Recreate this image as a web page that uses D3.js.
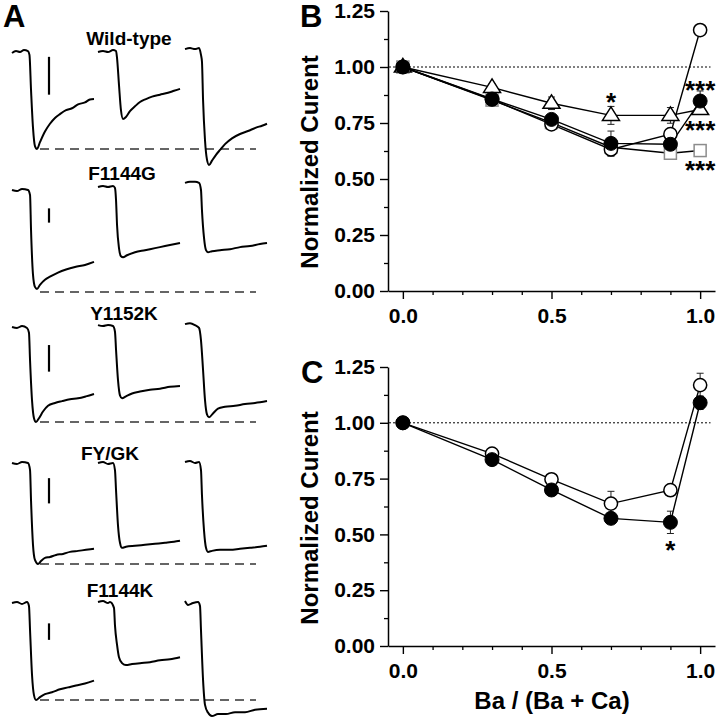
<!DOCTYPE html>
<html><head><meta charset="utf-8">
<script src="https://cdn.jsdelivr.net/npm/d3@7"></script>
<style>
html,body{margin:0;padding:0;background:#fff;}
svg{display:block;font-family:"Liberation Sans",Arial,Helvetica,sans-serif;font-weight:bold;}
</style>
</head><body>
<svg id="chart" width="718" height="720"></svg>
<script>
// ================= DATA =================
// Panel A: current traces, [time (ms, 0-100 window), current normalized to peak of first trace (0 = baseline, -1 = dashed line)]
const mutants = ["Wild-type", "F1144G", "Y1152K", "FY/GK", "F1144K"];

const wtTraces = [
  [[0,-0.01],[4.9,0.01],[9.8,0],[14.6,0.02],[19.5,0.01],[21.3,-0.03],[23.2,-0.39],[25.6,-0.78],[28,-0.97],[30.5,-1.0],[34.1,-0.93],[40.2,-0.82],[46.3,-0.74],[52.4,-0.68],[58.5,-0.64],[65.9,-0.6],[73.2,-0.58],[80.5,-0.54],[89,-0.52],[95,-0.49],[100,-0.485]],
  [[0,0],[6.1,0.01],[12.2,0],[18.3,0.02],[22,0.01],[23.2,-0.06],[25.6,-0.34],[28,-0.6],[30.5,-0.69],[34.1,-0.67],[39,-0.61],[45.1,-0.56],[51.2,-0.515],[58.5,-0.485],[65.9,-0.46],[75.6,-0.44],[85.4,-0.42],[92.7,-0.4],[100,-0.38]],
  [[0,0.03],[6.1,0.04],[12.2,0.03],[17.1,0.04],[19.5,-0.03],[20.7,-0.1],[22,-0.49],[24.4,-0.91],[26.8,-1.11],[29.3,-1.165],[32.9,-1.12],[37.8,-1.06],[42.7,-1.01],[48.8,-0.95],[57.3,-0.89],[67.1,-0.845],[76.8,-0.815],[86.6,-0.78],[93.9,-0.76],[100,-0.74]]
];
const f1144gTraces = [
  [[0,0],[6.1,-0.01],[12.2,0.01],[19.5,0],[22,-0.05],[23.2,-0.39],[25.6,-0.83],[28,-0.95],[30.5,-0.97],[34.1,-0.93],[40.2,-0.88],[46.3,-0.85],[56.1,-0.81],[65.9,-0.78],[76.8,-0.755],[89,-0.735],[100,-0.705]],
  [[0,0.03],[6.1,0.04],[12.2,0.03],[18.3,0.04],[20.7,0.02],[22,-0.1],[23.2,-0.34],[25.6,-0.57],[28,-0.65],[30.5,-0.66],[35.4,-0.64],[45.1,-0.61],[57.3,-0.59],[69.5,-0.57],[81.7,-0.55],[93.9,-0.53],[100,-0.52]],
  [[0,0.07],[6.1,0.08],[12.2,0.08],[17.1,0.07],[19.5,0],[20.7,-0.2],[23.2,-0.47],[25.6,-0.59],[28,-0.61],[32.9,-0.6],[42.7,-0.59],[54.9,-0.58],[67.1,-0.56],[79.3,-0.55],[91.5,-0.53],[100,-0.52]]
];
const y1152kTraces = [
  [[0,0],[6.1,-0.01],[12.2,0.01],[18.3,-0.01],[20.7,-0.06],[22,-0.35],[24.4,-0.77],[26.8,-0.96],[29.3,-1.0],[32.9,-0.96],[37.8,-0.89],[43.9,-0.83],[52.4,-0.8],[61,-0.78],[70.7,-0.76],[80.5,-0.75],[90.2,-0.73],[100,-0.705]],
  [[0,0.02],[6.1,0.01],[12.2,0.02],[18.3,0.01],[20.7,-0.05],[22,-0.24],[24.4,-0.56],[26.8,-0.72],[29.3,-0.75],[34.1,-0.73],[41.5,-0.7],[51.2,-0.68],[63.4,-0.66],[75.6,-0.65],[87.8,-0.63],[100,-0.62]],
  [[0,0.03],[6.1,0.04],[12.2,0.02],[17.1,-0.01],[19.5,-0.14],[22,-0.45],[24.4,-0.77],[26.8,-0.92],[29.3,-0.95],[34.1,-0.91],[40.2,-0.86],[48.8,-0.84],[61,-0.83],[73.2,-0.81],[85.4,-0.8],[100,-0.78]]
];
const fygkTraces = [
  [[0,0],[6.1,-0.01],[12.2,0.01],[19.5,0],[22,-0.07],[23.2,-0.37],[25.6,-0.81],[28,-0.96],[31.7,-1.0],[35.4,-0.97],[40.2,-0.94],[46.3,-0.93],[53.7,-0.91],[62.2,-0.9],[70.7,-0.88],[80.5,-0.87],[90.2,-0.86],[100,-0.85]],
  [[0,0],[6.1,0.01],[12.2,-0.01],[18.3,0],[20.7,-0.07],[22,-0.27],[24.4,-0.62],[26.8,-0.79],[29.3,-0.84],[34.1,-0.83],[45.1,-0.82],[57.3,-0.81],[69.5,-0.8],[81.7,-0.79],[92.7,-0.78],[100,-0.77]],
  [[0,0.01],[6.1,0.02],[12.2,0],[17.1,0.01],[19.5,-0.07],[20.7,-0.32],[23.2,-0.67],[25.6,-0.84],[28,-0.88],[32.9,-0.87],[42.7,-0.86],[54.9,-0.86],[67.1,-0.85],[79.3,-0.84],[91.5,-0.83],[100,-0.82]]
];
const f1144kTraces = [
  [[0,0],[6.1,0.01],[12.2,-0.01],[18.3,0.01],[20.7,-0.03],[22,-0.28],[24.4,-0.74],[26.8,-0.95],[29.3,-1.0],[34.1,-0.97],[40.2,-0.94],[48.8,-0.92],[58.5,-0.89],[68.3,-0.87],[78,-0.85],[89,-0.83],[100,-0.8]],
  [[0,0.01],[6.1,0.02],[12.2,0],[14.6,0.01],[19.5,-0.05],[20.7,-0.23],[23.2,-0.43],[25.6,-0.56],[29.3,-0.62],[34.1,-0.64],[41.5,-0.63],[51.2,-0.62],[63.4,-0.61],[75.6,-0.59],[87.8,-0.58],[100,-0.56]],
  [[0,0.02],[3.7,-0.02],[9.8,0],[15.9,0.01],[18.3,-0.03],[19.5,-0.28],[22,-0.79],[24.4,-1.05],[28,-1.13],[32.9,-1.165],[40.2,-1.145],[50,-1.145],[61,-1.125],[73.2,-1.125],[85.4,-1.1],[100,-1.09]]
];
const allTraces = [wtTraces, f1144gTraces, y1152kTraces, fygkTraces, f1144kTraces];
// vertical scale bars (normalized current units: [top, bottom])
const scaleBars = [[-0.05,-0.44],[-0.18,-0.32],[-0.19,-0.47],[-0.15,-0.40],[-0.21,-0.38]];

// Panels B and C
const baFraction = [0, 0.3, 0.5, 0.7, 0.9, 1.0];
const xTickValues = [0, 0.5, 1.0];
const yTickValues = [0, 0.25, 0.5, 0.75, 1.0, 1.25];

const bOpenCircle   = [1.0, 0.855, 0.744, 0.632, 0.700, 1.165];
const bOpenErr      = [0.02, 0.015, 0.02, 0.03, 0.02, 0.02];
const bFilledCircle = [1.0, 0.857, 0.766, 0.659, 0.655, 0.848];
const bFilledErr    = [0.02, 0.015, 0.02, 0.055, 0.02, 0.045];
const bTriangle     = [1.0, 0.909, 0.838, 0.784, 0.784, 0.810];
const bTriangleErr  = [0.02, 0.015, 0.028, 0.04, 0.035, 0.02];
const bSquare       = [1.0, 0.852, 0.752, 0.642, 0.615, 0.627];
const bSquareErr    = [0.02, 0.015, 0.02, 0.02, 0.02, 0.015];
const bStars = [{x:0.7, y:0.866, t:"*"}, {x:1.0, y:0.92, t:"***"}, {x:1.0, y:0.741, t:"***"}, {x:1.0, y:0.5625, t:"***"}];

const cOpenCircle   = [1.0, 0.862, 0.747, 0.638, 0.698, 1.169];
const cOpenErr      = [0.01, 0.012, 0.012, 0.055, 0.015, 0.053];
const cFilledCircle = [1.0, 0.835, 0.699, 0.572, 0.554, 1.090];
const cFilledErr    = [0.01, 0.012, 0.015, 0.015, 0.05, 0.03];
const cStars = [{x:0.9, y:0.4525, t:"*"}];

// ================= LAYOUT =================
const svg = d3.select("#chart");
const rowBase = [52, 190, 327, 463, 603];
const rowDash = [149, 292, 422, 564, 700];
const colX = [12, 98, 185];
const traceW = 82;
const labelPos = [[129,45],[122,180],[124,320],[110,460],[120,597]];
const scaleBarX = 49;

// Panel letters
svg.append("text").attr("x",3).attr("y",27).attr("font-size",31).text("A");
svg.append("text").attr("x",300).attr("y",27).attr("font-size",31).text("B");
svg.append("text").attr("x",301).attr("y",383).attr("font-size",31).text("C");

// ---------- Panel A ----------
const tScale = d3.scaleLinear().domain([0,100]).range([0,traceW]);
allTraces.forEach((traces, r) => {
  const yA = d3.scaleLinear().domain([-1,0]).range([rowDash[r], rowBase[r]]);
  const g = svg.append("g");
  g.append("text").attr("x",labelPos[r][0]).attr("y",labelPos[r][1])
    .attr("text-anchor","middle").attr("font-size",19).text(mutants[r]);
  g.append("line").attr("x1",40).attr("x2",256)
    .attr("y1",yA(-1)).attr("y2",yA(-1))
    .attr("stroke","#333").attr("stroke-width",1.4).attr("stroke-dasharray","9,6");
  traces.forEach((tr, c) => {
    const line = d3.line()
      .x(d => colX[c] + tScale(d[0]))
      .y(d => yA(d[1]))
      .curve(d3.curveMonotoneX);
    g.append("path").attr("d", line(tr)).attr("fill","none")
      .attr("stroke","#000").attr("stroke-width",2).attr("stroke-linejoin","round");
  });
  g.append("line").attr("x1",scaleBarX).attr("x2",scaleBarX)
    .attr("y1",yA(scaleBars[r][0])).attr("y2",yA(scaleBars[r][1]))
    .attr("stroke","#000").attr("stroke-width",2.2);
});

// ---------- Panels B and C ----------
const x = d3.scaleLinear().domain([-0.05,1.05]).range([388,715]);

function trianglePath(){ return "M0,-8.5L8.5,5L-8.5,5Z"; }

function drawPanel(y, series, stars, labelCenterY){
  const g = svg.append("g");
  g.append("g").attr("transform",`translate(0,${y.range()[0]})`)
    .call(d3.axisBottom(x).tickValues([0.1,0.2,0.3,0.4,0.6,0.7,0.8,0.9]).tickSize(4).tickFormat("").tickSizeOuter(0))
    .call(a => a.select(".domain").remove())
    .call(a => a.selectAll("line").attr("stroke-width",1.3));
  g.append("g").attr("transform",`translate(388,0)`)
    .call(d3.axisLeft(y).tickValues([0.125,0.375,0.625,0.875,1.125]).tickSize(4).tickFormat("").tickSizeOuter(0))
    .call(a => a.select(".domain").remove())
    .call(a => a.selectAll("line").attr("stroke-width",1.3));
  const xa = g.append("g").attr("transform",`translate(0,${y.range()[0]})`)
    .call(d3.axisBottom(x).tickValues(xTickValues).tickFormat(d3.format(".1f")).tickSize(8).tickPadding(9).tickSizeOuter(0));
  const ya = g.append("g").attr("transform",`translate(388,0)`)
    .call(d3.axisLeft(y).tickValues(yTickValues).tickFormat(d3.format(".2f")).tickSize(8).tickPadding(5).tickSizeOuter(0));
  [xa, ya].forEach(a => {
    a.selectAll("text").attr("font-size",21).attr("font-weight","bold")
      .attr("font-family",'"Liberation Sans",Arial,sans-serif').attr("fill","#000");
    a.selectAll("line").attr("stroke-width",1.4);
    a.select(".domain").attr("stroke-width",1.5);
  });
  g.append("text").attr("transform",`translate(318,${labelCenterY}) rotate(-90)`)
    .attr("text-anchor","middle").attr("font-size",24).text("Normalized Curent");
  g.append("line").attr("x1",389).attr("x2",x(1.035)).attr("y1",y(1)).attr("y2",y(1))
    .attr("stroke","#000").attr("stroke-width",1).attr("stroke-dasharray","2,2");
  const line = d3.line().x((d,i)=>x(baFraction[i])).y(d=>y(d));
  series.forEach(s => {
    g.append("path").attr("d", line(s.values)).attr("fill","none")
      .attr("stroke","#000").attr("stroke-width",1.4);
  });
  series.forEach(s => {
    s.values.forEach((v,i) => {
      const e = s.err[i], cx = x(baFraction[i]);
      const eb = g.append("g").attr("stroke","#222").attr("stroke-width",1);
      eb.append("line").attr("x1",cx).attr("x2",cx).attr("y1",y(v-e)).attr("y2",y(v+e));
      eb.append("line").attr("x1",cx-3.5).attr("x2",cx+3.5).attr("y1",y(v-e)).attr("y2",y(v-e));
      eb.append("line").attr("x1",cx-3.5).attr("x2",cx+3.5).attr("y1",y(v+e)).attr("y2",y(v+e));
    });
  });
  series.forEach(s => {
    s.values.forEach((v,i) => {
      const cx = x(baFraction[i]), cy = y(v);
      if (s.shape === "square") {
        g.append("rect").attr("x",cx-6).attr("y",cy-6).attr("width",12).attr("height",12)
          .attr("fill","#fff").attr("stroke","#8c8c8c").attr("stroke-width",1.5);
      } else if (s.shape === "triangle") {
        g.append("path").attr("d",trianglePath()).attr("transform",`translate(${cx},${cy})`)
          .attr("fill","#fff").attr("stroke","#000").attr("stroke-width",1.5);
      } else if (s.shape === "open") {
        g.append("circle").attr("cx",cx).attr("cy",cy).attr("r",6.6)
          .attr("fill","#fff").attr("stroke","#000").attr("stroke-width",1.5);
      } else {
        g.append("circle").attr("cx",cx).attr("cy",cy).attr("r",7)
          .attr("fill","#000").attr("stroke","#000").attr("stroke-width",1);
      }
    });
  });
  stars.forEach(st => {
    g.append("text").attr("x",x(st.x)).attr("y",y(st.y)+14).attr("text-anchor","middle")
      .attr("font-size",26).text(st.t);
  });
}

const yB = d3.scaleLinear().domain([0,1.25]).range([291,11]);
const yC = d3.scaleLinear().domain([0,1.25]).range([646,367]);

drawPanel(yB, [
  {values:bSquare, err:bSquareErr, shape:"square"},
  {values:bTriangle, err:bTriangleErr, shape:"triangle"},
  {values:bOpenCircle, err:bOpenErr, shape:"open"},
  {values:bFilledCircle, err:bFilledErr, shape:"filled"}
], bStars, 162);

drawPanel(yC, [
  {values:cOpenCircle, err:cOpenErr, shape:"open"},
  {values:cFilledCircle, err:cFilledErr, shape:"filled"}
], cStars, 518);

svg.append("text").attr("x",552).attr("y",709).attr("text-anchor","middle")
  .attr("font-size",24).text("Ba / (Ba + Ca)");
</script>
</body></html>
